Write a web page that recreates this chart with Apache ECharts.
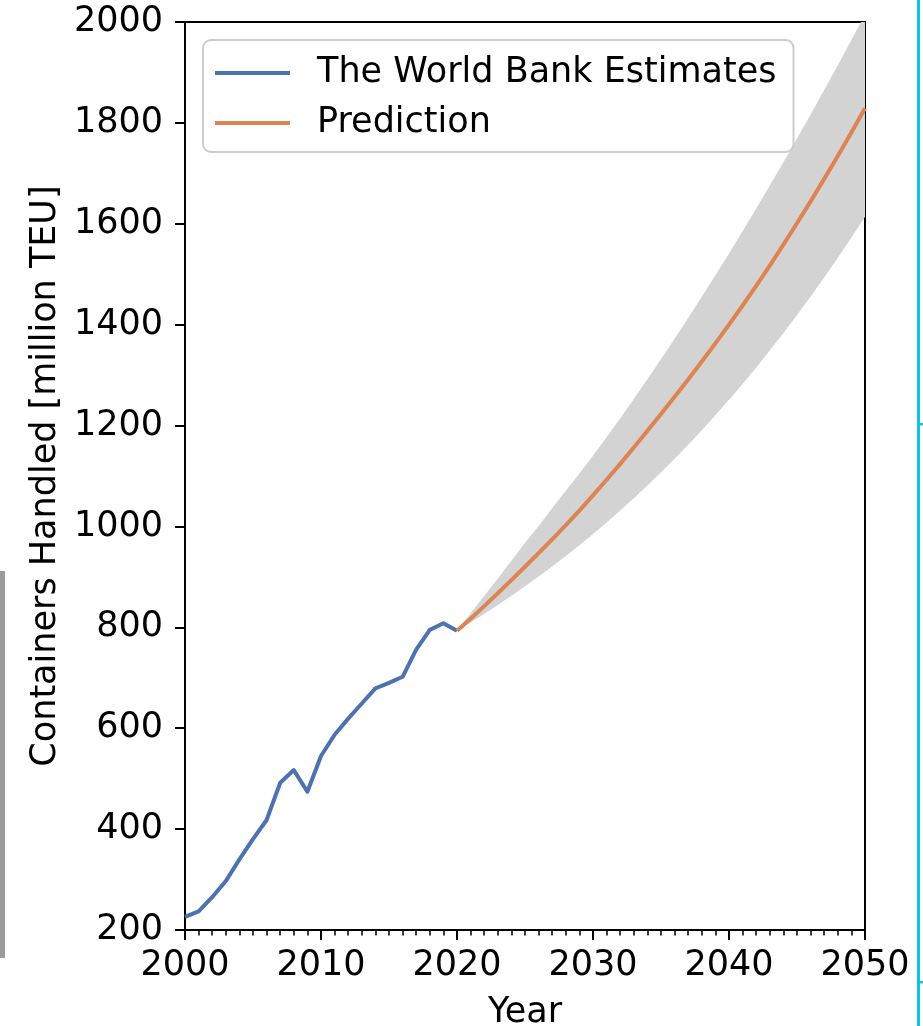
<!DOCTYPE html>
<html>
<head>
<meta charset="utf-8">
<title>Containers Handled</title>
<script src="https://cdn.jsdelivr.net/npm/echarts@6/dist/echarts.min.js"></script>
<style>
  html, body { margin: 0; padding: 0; background: #ffffff; }
  #chart { width: 923px; height: 1026px; }
</style>
</head>
<body>
<div id="chart"></div>
<script>
// Historical container throughput (World Bank), million TEU
const histYears = [2000, 2001, 2002, 2003, 2004, 2005, 2006, 2007, 2008, 2009, 2010,
                   2011, 2012, 2013, 2014, 2015, 2016, 2017, 2018, 2019, 2020];
const histTEU = [226, 237, 265, 297, 340, 380, 418, 492, 517, 474, 545,
                 587, 619, 649, 679, 690, 702, 756, 795, 808, 793];

// Projected throughput, million TEU
const predYears = [2020, 2021, 2022, 2023, 2024, 2025, 2026, 2027, 2028, 2029, 2030,
                   2031, 2032, 2033, 2034, 2035, 2036, 2037, 2038, 2039, 2040,
                   2041, 2042, 2043, 2044, 2045, 2046, 2047, 2048, 2049, 2050];
const predTEU = [793, 817, 842, 867.5, 893.5, 920, 947, 974.5, 1002.5, 1031.5, 1061.5,
                 1092.5, 1124, 1156.5, 1189.5, 1223, 1257, 1291.5, 1327, 1363, 1400,
                 1438, 1477, 1517, 1558.5, 1601, 1644.5, 1689, 1734.5, 1781, 1829];

// Uncertainty band around the projection
const bandLower = [793, 809.5, 826.6, 844.2, 862.4, 881.2, 900.6, 920.7, 941.4, 962.9, 985,
                   1007.9, 1031.5, 1056, 1081.2, 1107.3, 1134.2, 1162, 1190.8, 1220.4, 1251,
                   1282.6, 1315.1, 1348.7, 1383.3, 1419, 1455.7, 1493.6, 1532.6, 1572.7, 1614];
const bandUpper = [793, 828, 862, 897, 932, 967, 1001, 1036, 1071, 1105, 1140,
                   1176.9, 1214.5, 1252.8, 1291.8, 1331.6, 1372.1, 1413.3, 1455.2, 1497.9, 1541.3,
                   1585.4, 1630.2, 1675.8, 1722.1, 1769.1, 1816.8, 1865.3, 1914.5, 1964.4, 2015];

// Axis ranges
const xRange = { min: 2000, max: 2050, interval: 10 };
const yRange = { min: 200, max: 2000, interval: 200 };

const FONT = 'DejaVu Sans';
const FS = 35;
const BLUE = '#4c72b0';
const ORANGE = '#dd8452';
const BAND = '#d3d3d3';

const pairs = (xs, ys) => xs.map((x, i) => [x, ys[i]]);

// Filled polygon between the lower and upper band edges
function renderBand(params, api) {
  const pts = [];
  for (let i = 0; i < predYears.length; i++) pts.push(api.coord([predYears[i], bandUpper[i]]));
  for (let i = predYears.length - 1; i >= 0; i--) pts.push(api.coord([predYears[i], bandLower[i]]));
  return {
    type: 'polygon',
    shape: { points: pts },
    style: { fill: BAND, stroke: null },
    silent: true
  };
}

const chart = echarts.init(document.getElementById('chart'), null, { renderer: 'canvas' });

chart.setOption({
  backgroundColor: '#ffffff',
  animation: false,
  textStyle: { fontFamily: FONT, color: '#000' },
  grid: {
    left: 185, right: 58, top: 22, bottom: 96,
    outerBoundsMode: 'none', containLabel: false,
    show: true, borderColor: '#000', borderWidth: 2, backgroundColor: 'transparent'
  },
  legend: {
    data: ['The World Bank Estimates', 'Prediction'],
    orient: 'vertical',
    left: 203, top: 40,
    padding: [13, 17, 9, 12],
    itemGap: 10,
    itemWidth: 75, itemHeight: 4,
    icon: 'rect',
    backgroundColor: 'rgba(255,255,255,0.8)',
    borderColor: '#cccccc', borderWidth: 2, borderRadius: 8,
    textStyle: { fontFamily: FONT, fontSize: FS, color: '#000', lineHeight: 40, padding: [0, 0, 0, 22] }
  },
  xAxis: {
    type: 'value',
    min: xRange.min, max: xRange.max, interval: xRange.interval,
    name: 'Year', nameLocation: 'middle', nameGap: 65,
    nameTextStyle: { fontFamily: FONT, fontSize: FS, color: '#000' },
    axisLine: { show: true, lineStyle: { color: '#000', width: 2 } },
    axisTick: { show: true, length: 10, lineStyle: { color: '#000', width: 2 } },
    minorTick: { show: true, splitNumber: 10, length: 5.5, lineStyle: { color: '#000', width: 1.5 } },
    axisLabel: { fontFamily: FONT, fontSize: FS, color: '#000', margin: 18, formatter: v => String(v) },
    splitLine: { show: false }
  },
  yAxis: {
    type: 'value',
    min: yRange.min, max: yRange.max, interval: yRange.interval,
    name: 'Containers Handled [million TEU]', nameLocation: 'middle', nameGap: 116,
    nameTextStyle: { fontFamily: FONT, fontSize: FS, color: '#000' },
    axisLine: { show: true, lineStyle: { color: '#000', width: 2 } },
    axisTick: { show: true, length: 10, lineStyle: { color: '#000', width: 2 } },
    axisLabel: { fontFamily: FONT, fontSize: FS, color: '#000', margin: 22, formatter: v => String(v) },
    splitLine: { show: false }
  },
  series: [
    {
      name: 'band', type: 'custom', z: 1, silent: true, clip: true,
      renderItem: renderBand,
      data: [[predYears[0], bandLower[0]]]
    },
    {
      name: 'The World Bank Estimates', type: 'line', z: 3,
      data: pairs(histYears, histTEU),
      symbol: 'none', color: BLUE,
      lineStyle: { color: BLUE, width: 4, join: 'round' }
    },
    {
      name: 'Prediction', type: 'line', z: 4,
      data: pairs(predYears, predTEU),
      symbol: 'none', color: ORANGE,
      lineStyle: { color: ORANGE, width: 4, join: 'round' }
    }
  ],
  graphic: [
    // page edge marks
    { type: 'rect', shape: { x: 0, y: 571, width: 5, height: 387 }, style: { fill: '#9a9a9a' }, silent: true },
    { type: 'rect', shape: { x: 917, y: 0, width: 3, height: 1026 }, style: { fill: '#10c4dc' }, silent: true },
    { type: 'rect', shape: { x: 917, y: 423, width: 6, height: 2.5 }, style: { fill: '#10c4dc' }, silent: true },
    { type: 'rect', shape: { x: 917, y: 981, width: 6, height: 2.5 }, style: { fill: '#10c4dc' }, silent: true }
  ]
});
</script>
</body>
</html>
